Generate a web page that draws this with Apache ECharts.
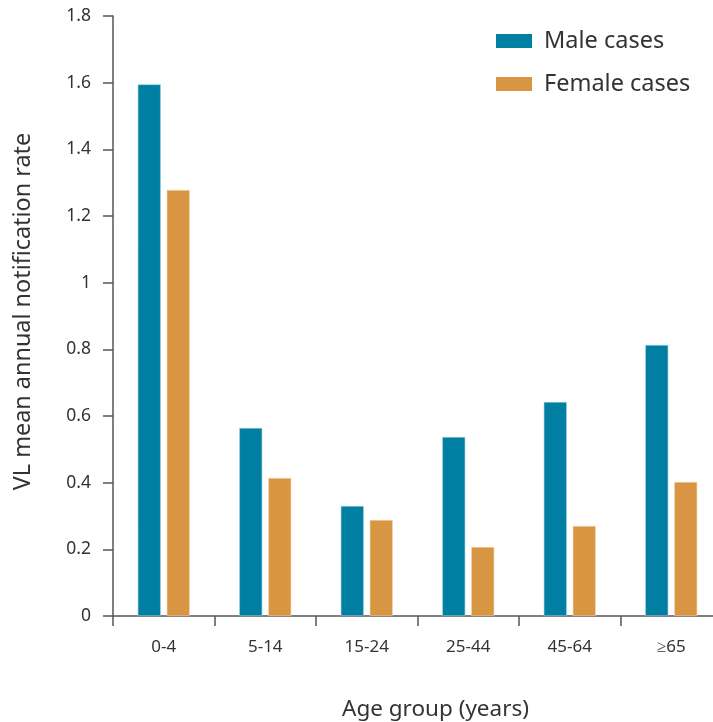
<!DOCTYPE html>
<html><head><meta charset="utf-8">
<script src="https://cdn.jsdelivr.net/npm/echarts@6/dist/echarts.min.js"></script>
<style>html,body{margin:0;padding:0;background:#fff}#c{width:713px;height:722px}</style>
</head><body><div id="c"></div>
<script>
const categories = ['0-4', '5-14', '15-24', '25-44', '45-64', '≥65'];
const maleValues = [1.595, 0.564, 0.33, 0.537, 0.642, 0.813];
const femaleValues = [1.278, 0.414, 0.288, 0.207, 0.27, 0.402];
const seriesNames = ['Male cases', 'Female cases'];
const yTitle = 'VL mean annual notification rate';
const xTitle = 'Age group (years)';

const FONT = 'Noto Sans';
const chart = echarts.init(document.getElementById('c'), null, {renderer: 'canvas'});
chart.setOption({
  animation: false,
  textStyle: {fontFamily: FONT},
  grid: {left: 113, width: 609, top: 16, height: 600, containLabel: false, outerBoundsMode: 'none'},
  legend: {
    data: seriesNames,
    orient: 'vertical',
    left: 491, top: 24,
    itemWidth: 36, itemHeight: 14, itemGap: 19,
    itemStyle: {borderWidth: 0},
    textStyle: {fontFamily: FONT, fontSize: 23.5, color: '#333', padding: [0, 0, 0, 7]},
    icon: 'rect'
  },
  xAxis: {
    type: 'category', data: categories,
    name: xTitle, nameLocation: 'middle', nameGap: 82,
    nameTextStyle: {fontFamily: FONT, fontSize: 22.5, color: '#333', padding: [0, 0, 0, 36]},
    axisLine: {lineStyle: {color: '#555', width: 1.5}},
    axisTick: {show: true, length: 10, alignWithLabel: false, lineStyle: {color: '#555', width: 1.5}},
    axisLabel: {fontFamily: FONT, fontSize: 17, color: '#333', margin: 23}
  },
  yAxis: {
    type: 'value', min: 0, max: 1.8, interval: 0.2,
    name: yTitle, nameLocation: 'middle', nameGap: 78, nameRotate: 90,
    nameTextStyle: {fontFamily: FONT, fontSize: 23.4, color: '#333', padding: [0, 0, 0, 9]},
    axisLine: {show: true, lineStyle: {color: '#555', width: 1.5}},
    axisTick: {show: true, length: 10, lineStyle: {color: '#555', width: 1.5}},
    splitLine: {show: false},
    axisLabel: {fontFamily: FONT, fontSize: 17.5, color: '#333', margin: 22}
  },
  series: [
    {name: seriesNames[0], type: 'bar', data: maleValues, barWidth: 23, barGap: '26%',
     itemStyle: {color: '#007FA3', borderColor: '#9cd0df', borderWidth: 0.6}},
    {name: seriesNames[1], type: 'bar', data: femaleValues, barWidth: 23,
     itemStyle: {color: '#D99642', borderColor: '#f3d4ad', borderWidth: 0.6}}
  ]
});
</script></body></html>
